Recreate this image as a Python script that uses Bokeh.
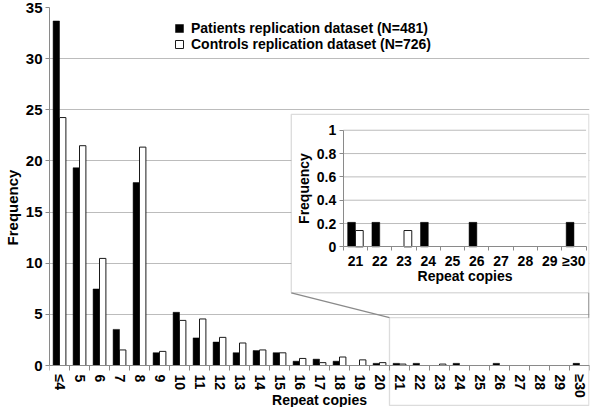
from bokeh.plotting import figure
from bokeh.models import (Range1d, LinearAxis, FixedTicker, BoxAnnotation, Arrow,
                          Legend, LegendItem, NumeralTickFormatter, ColumnDataSource)
from bokeh.transform import dodge
from bokeh.embed import file_html
from bokeh.resources import INLINE

# ---------------- data ----------------
categories = ["≤4", "5", "6", "7", "8", "9", "10", "11", "12", "13", "14", "15", "16",
              "17", "18", "19", "20", "21", "22", "23", "24", "25", "26", "27", "28",
              "29", "≥30"]
patients = [33.68, 19.33, 7.48, 3.53, 17.88, 1.25, 5.20, 2.70, 2.29, 1.25, 1.46, 1.25,
            0.42, 0.62, 0.42, 0.00, 0.21, 0.21, 0.21, 0.00, 0.21, 0.00, 0.21, 0.00,
            0.00, 0.00, 0.21]
controls = [24.24, 21.49, 10.47, 1.52, 21.35, 1.38, 4.41, 4.55, 2.75, 2.20, 1.52, 1.24,
            0.69, 0.28, 0.83, 0.55, 0.28, 0.14, 0.00, 0.14, 0.00, 0.00, 0.00, 0.00,
            0.00, 0.00, 0.00]
series_labels = ["Patients replication dataset (N=481)",
                 "Controls replication dataset (N=726)"]
y_ticks = [0, 5, 10, 15, 20, 25, 30, 35]
inset_first = "21"
inset_y_ticks = [0, 0.2, 0.4, 0.6, 0.8, 1]

# ---------------- styles / layout ----------------
FONT = "Liberation Sans"
TXT = "#000000"
GRID = "#bcbcbc"
AXIS = "#8a8a8a"
BOX = "#8a8a8a"
OFF = 0.16
BW = 0.32

W, H = 592, 407
FRAME_TOP = 7        # px of the top gridline
ZERO_Y = 365         # px of the value axis' zero
n = len(categories)
X0, X1 = -0.5, n - 0.5
Y1 = y_ticks[-1]
# the frame reaches down to the bottom of the canvas; the x axis sits at 0
Y0 = -(H - ZERO_Y) * (Y1 - y_ticks[0]) / (ZERO_Y - FRAME_TOP)

# layout of the inset / zoom box, in main-data units
INSET_BOX = dict(left=11.59, right=26.47, bottom=7.11, top=24.56)
INSET_AREA = dict(left=14.19, right=26.33, bottom=11.60, top=23.0)
ZOOM_BOX = dict(left=16.5, right=26.47, bottom=-3.9, top=4.68)

p = figure(width=W, height=H, output_backend="svg", toolbar_location=None,
           x_range=Range1d(X0, X1), y_range=Range1d(Y0, Y1),
           min_border_left=48, min_border_right=3, min_border_top=FRAME_TOP,
           min_border_bottom=0)
p.outline_line_color = None
p.background_fill_color = "white"
p.border_fill_color = "white"

# main axes
mx = p.xaxis[0]
my = p.yaxis[0]
xs = list(range(n))
mx.fixed_location = 0
mx.bounds = (X0, X1)
mx.ticker = FixedTicker(ticks=xs, minor_ticks=[i - 0.5 for i in range(n + 1)])
mx.major_label_overrides = {i: c for i, c in enumerate(categories)}
mx.major_label_orientation = "vertical"
mx.major_tick_out = 0
mx.major_tick_in = 0
mx.minor_tick_out = 5
mx.minor_tick_in = 0
mx.minor_tick_line_color = AXIS
mx.axis_line_color = AXIS
mx.major_label_standoff = 4

my.ticker = FixedTicker(ticks=y_ticks)
my.bounds = (y_ticks[0], Y1)
my.major_tick_out = 4
my.major_tick_in = 0
my.major_tick_line_color = AXIS
my.minor_tick_line_color = None
my.axis_line_color = AXIS
my.major_label_standoff = 3
my.axis_label = "Frequency"
my.axis_label_standoff = 2

for ax, lsize in ((mx, "14px"), (my, "15px")):
    ax.major_label_text_font = FONT
    ax.major_label_text_font_style = "bold"
    ax.major_label_text_font_size = lsize
    ax.major_label_text_color = TXT
    ax.axis_label_text_font = FONT
    ax.axis_label_text_font_style = "bold"
    ax.axis_label_text_font_size = "15px"
    ax.axis_label_text_color = TXT

# main x title, drawn by a tick-less axis fixed at y = 0
title_ax = LinearAxis(fixed_location=0, bounds=(X0, X1), ticker=FixedTicker(ticks=[]),
                      axis_line_color=None, major_tick_out=0, major_tick_in=0,
                      major_label_standoff=0, axis_label="Repeat copies",
                      axis_label_standoff=26, axis_label_text_font=FONT,
                      axis_label_text_font_style="bold", axis_label_text_font_size="14px",
                      axis_label_text_color=TXT)
p.add_layout(title_ax, "below")

p.xgrid.visible = False
p.ygrid.ticker = FixedTicker(ticks=y_ticks)
p.ygrid.grid_line_color = GRID

# main bars
src_p = ColumnDataSource(dict(x=[i for i, v in enumerate(patients) if v > 0],
                              top=[v for v in patients if v > 0]))
src_c = ColumnDataSource(dict(x=[i for i, v in enumerate(controls) if v > 0],
                              top=[v for v in controls if v > 0]))
rp = p.vbar(x=dodge("x", -OFF, range=p.x_range), top="top", bottom=0, width=BW,
            source=src_p, fill_color="black", line_color="black", line_width=0.5)
rc = p.vbar(x=dodge("x", OFF, range=p.x_range), top="top", bottom=0, width=BW,
            source=src_c, fill_color="white", line_color="#1a1a1a", line_width=1)

legend = Legend(items=[LegendItem(label=series_labels[0], renderers=[rp]),
                       LegendItem(label=series_labels[1], renderers=[rc])],
                location=(125, 355), padding=0, spacing=0, glyph_width=10, glyph_height=10,
                label_standoff=7, label_height=16, background_fill_alpha=0,
                border_line_alpha=0, label_text_font=FONT, label_text_font_style="bold",
                label_text_font_size="14px", label_text_color=TXT)
p.add_layout(legend)

# ---------------- inset ----------------
k = categories.index(inset_first)
ni = n - k
sx = (INSET_AREA["right"] - INSET_AREA["left"]) / ni
ix_start = -0.5 - (INSET_AREA["left"] - X0) / sx
ix_end = (ni - 0.5) + (X1 - INSET_AREA["right"]) / sx
sy = (INSET_AREA["top"] - INSET_AREA["bottom"])
iy_start = -(INSET_AREA["bottom"] - Y0) / sy
iy_end = 1 + (Y1 - INSET_AREA["top"]) / sy
p.extra_x_ranges = {"ix": Range1d(ix_start, ix_end)}
p.extra_y_ranges = {"iy": Range1d(iy_start, iy_end)}

inset_bg = BoxAnnotation(left=INSET_BOX["left"], right=INSET_BOX["right"],
                         bottom=INSET_BOX["bottom"], top=INSET_BOX["top"],
                         fill_color="white", fill_alpha=1, line_color=BOX, line_width=1.3,
                         level="underlay")
p.add_layout(inset_bg)
zoom_box = BoxAnnotation(left=ZOOM_BOX["left"], right=ZOOM_BOX["right"],
                         bottom=ZOOM_BOX["bottom"], top=ZOOM_BOX["top"],
                         fill_alpha=0, line_color=BOX, line_width=1.3)
p.add_layout(zoom_box)
p.add_layout(Arrow(end=None, x_start=INSET_BOX["left"], y_start=INSET_BOX["bottom"],
                   x_end=ZOOM_BOX["left"], y_end=ZOOM_BOX["top"], line_color=BOX,
                   line_width=1.3))
p.add_layout(Arrow(end=None, x_start=INSET_BOX["right"], y_start=INSET_BOX["bottom"],
                   x_end=ZOOM_BOX["right"], y_end=ZOOM_BOX["top"], line_color=BOX,
                   line_width=1.3))

# inset gridlines
gt = [t for t in inset_y_ticks if t > 0]
p.segment(x0=[-0.5] * len(gt), x1=[ni - 0.5] * len(gt), y0=gt, y1=gt,
          line_color=GRID, line_width=1, x_range_name="ix", y_range_name="iy")

# inset bars
ip = patients[k:]
ic = controls[k:]
src_ip = ColumnDataSource(dict(x=[i for i, v in enumerate(ip) if v > 0],
                               top=[v for v in ip if v > 0]))
src_ic = ColumnDataSource(dict(x=[i for i, v in enumerate(ic) if v > 0],
                               top=[v for v in ic if v > 0]))
p.vbar(x=dodge("x", -OFF, range=p.extra_x_ranges["ix"]), top="top", bottom=0, width=BW,
       source=src_ip, fill_color="black", line_color="black", line_width=0.5,
       x_range_name="ix", y_range_name="iy")
p.vbar(x=dodge("x", OFF, range=p.extra_x_ranges["ix"]), top="top", bottom=0, width=BW,
       source=src_ic, fill_color="white", line_color="#1a1a1a", line_width=1,
       x_range_name="ix", y_range_name="iy")

iy_axis = LinearAxis(x_range_name="ix", y_range_name="iy", fixed_location=-0.5,
                     bounds=(0, 1), ticker=FixedTicker(ticks=inset_y_ticks),
                     formatter=NumeralTickFormatter(format="0.[0]"),
                     axis_label="Frequency")
ix_axis = LinearAxis(x_range_name="ix", y_range_name="iy", fixed_location=0,
                     bounds=(-0.5, ni - 0.5),
                     ticker=FixedTicker(ticks=list(range(ni)),
                                        minor_ticks=[i - 0.5 for i in range(ni + 1)]),
                     axis_label="Repeat copies")
ix_axis.major_label_overrides = {i: c for i, c in enumerate(categories[k:])}
ix_axis.major_tick_out = 0
ix_axis.major_tick_in = 0
ix_axis.minor_tick_out = 4
ix_axis.minor_tick_in = 0
ix_axis.major_label_standoff = 2
ix_axis.axis_label_standoff = -4
iy_axis.major_tick_out = 4
iy_axis.major_tick_in = 0
iy_axis.major_label_standoff = 3
iy_axis.axis_label_standoff = 2
for ax in (ix_axis, iy_axis):
    ax.axis_line_color = AXIS
    ax.major_tick_line_color = AXIS
    ax.minor_tick_line_color = AXIS if ax is ix_axis else None
    ax.major_label_text_font = FONT
    ax.major_label_text_font_style = "bold"
    ax.major_label_text_font_size = "14px"
    ax.major_label_text_color = TXT
    ax.axis_label_text_font = FONT
    ax.axis_label_text_font_style = "bold"
    ax.axis_label_text_font_size = "14px"
    ax.axis_label_text_color = TXT
p.add_layout(iy_axis, "left")
p.add_layout(ix_axis, "below")

open("out.html", "w").write(file_html(p, INLINE))
